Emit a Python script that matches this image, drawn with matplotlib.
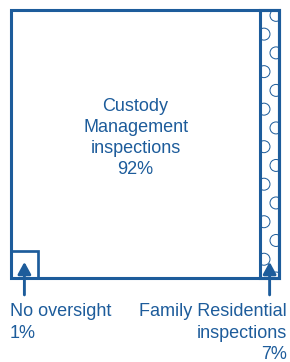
import matplotlib
matplotlib.use('Agg')
import numpy as np
import matplotlib.pyplot as plt
from matplotlib.patches import Rectangle

# dados do treemap (percentuais)
categorias = ['Custody\nManagement\ninspections', 'Family Residential\ninspections', 'No oversight']
valores = [92, 7, 1]

azul = '#1d5c9b'
plt.rcParams['font.family'] = ['Liberation Sans', 'DejaVu Sans']

dpi = 130
fig = plt.figure(figsize=(290 / dpi, 362 / dpi), dpi=dpi)
ax = fig.add_axes([11 / 290, (362 - 278) / 362, 268 / 290, 268 / 362])
ax.set_xlim(0, 100)
ax.set_ylim(0, 100)
ax.axis('off')

total = sum(valores)
larg_faixa = 100 * valores[1] / total
lado_quad = np.sqrt(100 * 100 * valores[2] / total)
x_faixa = 100 - larg_faixa

# faixa (Family Residential) com textura de circulos
faixa = Rectangle((x_faixa, 0), larg_faixa, 100, facecolor='white', edgecolor='none',
                  clip_on=False, zorder=1)
ax.add_patch(faixa)
passo = 7
ys = np.arange(100 - 2, -passo, -passo)
xs = np.where(np.arange(len(ys)) % 2 == 0, x_faixa + 0.84 * larg_faixa, x_faixa + 0.2 * larg_faixa)
circ = ax.scatter(xs, ys, s=44, marker='o', facecolors='none', edgecolors=azul,
                  linewidths=0.55, zorder=2)
circ.set_clip_path(faixa)
ax.add_patch(Rectangle((x_faixa, 0), larg_faixa, 100, fill=False, edgecolor=azul,
                       lw=1.7, clip_on=False, zorder=3))

# contorno geral
ax.add_patch(Rectangle((0, 0), 100, 100, fill=False, edgecolor=azul, lw=1.7, clip_on=False, zorder=3))
# quadrado (No oversight)
ax.add_patch(Rectangle((0, 0), lado_quad, lado_quad, fill=False, edgecolor=azul, lw=1.5,
                       clip_on=False, zorder=3))

ax.text(x_faixa / 2, 52.3, f'{categorias[0]}\n{valores[0]}%', ha='center', va='center',
        fontsize=10, color=azul, linespacing=1.32)

seta = dict(arrowstyle='-|>,head_length=0.55,head_width=0.3', color=azul, lw=1.6,
            shrinkA=0, shrinkB=0)
ax.annotate('', xy=(lado_quad / 2, 6), xytext=(lado_quad / 2, -6.3), arrowprops=seta,
            annotation_clip=False, zorder=4)
ax.annotate('', xy=(x_faixa + larg_faixa / 2, 6), xytext=(x_faixa + larg_faixa / 2, -6.3),
            arrowprops=seta, annotation_clip=False, zorder=4)

ax.text(-0.4, -9.5, f'{categorias[2]}\n{valores[2]}%', ha='left', va='top',
        fontsize=10, color=azul, linespacing=1.32, clip_on=False)
ax.text(103, -9.5, f'{categorias[1]}\n{valores[1]}%', ha='right', va='top',
        multialignment='right', fontsize=10, color=azul, linespacing=1.32, clip_on=False)

fig.savefig('out.png', dpi=dpi)
